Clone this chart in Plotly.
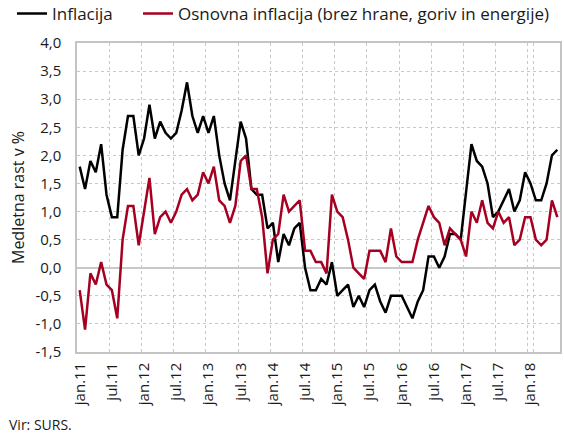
import plotly.graph_objects as go

# Monthly categories Jan 2011 - Jun 2018
month_abbr = ["jan", "feb", "mar", "apr", "maj", "jun", "jul", "avg", "sep", "okt", "nov", "dec"]
months = [f"{month_abbr[m]}.{y % 100:02d}" for y in range(2011, 2019) for m in range(12)][:90]

inflacija = [
    1.8, 1.4, 1.9, 1.7, 2.2, 1.3, 0.9, 0.9, 2.1, 2.7, 2.7, 2.0,
    2.3, 2.9, 2.3, 2.6, 2.4, 2.3, 2.4, 2.8, 3.3, 2.7, 2.4, 2.7,
    2.4, 2.7, 2.0, 1.5, 1.2, 1.9, 2.6, 2.3, 1.4, 1.3, 1.3, 0.7,
    0.8, 0.1, 0.6, 0.4, 0.7, 0.8, 0.0, -0.4, -0.4, -0.2, -0.3, 0.1,
    -0.5, -0.4, -0.3, -0.7, -0.5, -0.7, -0.4, -0.3, -0.6, -0.8, -0.5, -0.5,
    -0.5, -0.7, -0.9, -0.6, -0.4, 0.2, 0.2, 0.0, 0.2, 0.6, 0.6, 0.5,
    1.4, 2.2, 1.9, 1.8, 1.5, 0.9, 1.0, 1.2, 1.4, 1.0, 1.2, 1.7,
    1.5, 1.2, 1.2, 1.5, 2.0, 2.1,
]

osnovna = [
    -0.4, -1.1, -0.1, -0.3, 0.1, -0.3, -0.4, -0.9, 0.5, 1.1, 1.1, 0.4,
    1.0, 1.6, 0.6, 0.9, 1.0, 0.8, 1.0, 1.3, 1.4, 1.2, 1.3, 1.7,
    1.5, 1.8, 1.2, 1.1, 0.8, 1.1, 1.9, 2.0, 1.4, 1.4, 0.9, -0.1,
    0.5, 0.6, 1.3, 1.0, 1.1, 1.2, 0.3, 0.3, 0.1, 0.1, -0.1, 1.3,
    1.0, 0.9, 0.5, 0.0, -0.1, -0.2, 0.3, 0.3, 0.3, 0.1, 0.7, 0.2,
    0.1, 0.1, 0.1, 0.5, 0.8, 1.1, 0.9, 0.8, 0.4, 0.7, 0.6, 0.5,
    0.2, 1.0, 0.8, 1.2, 0.8, 0.7, 1.0, 0.8, 0.9, 0.4, 0.5, 0.9,
    0.9, 0.5, 0.4, 0.5, 1.2, 0.9,
]

x_ticks = months[::6]
y_vals = [4.0, 3.5, 3.0, 2.5, 2.0, 1.5, 1.0, 0.5, 0.0, -0.5, -1.0, -1.5]
y_text = ["4,0", "3,5", "3,0", "2,5", "2,0", "1,5", "1,0", "0,5", "0,0", "-0,5", "-1,0", "-1,5"]

FONT = "Open Sans"
TXT = "#1a1a1a"

fig = go.Figure()
fig.add_trace(go.Scatter(x=months, y=inflacija, mode="lines", name="Inflacija",
                         line=dict(color="#000000", width=2.5), cliponaxis=False,
                         legend="legend"))
fig.add_trace(go.Scatter(x=months, y=osnovna, mode="lines",
                         name="Osnovna inflacija (brez hrane, goriv in energije)",
                         line=dict(color="#a50021", width=2.5), cliponaxis=False,
                         legend="legend2"))

legend_common = dict(orientation="h", xanchor="left", y=1.094, yanchor="middle",
                     font=dict(size=17, color=TXT), bgcolor="rgba(0,0,0,0)", itemwidth=30)

fig.update_layout(
    width=564, height=436,
    margin=dict(l=77, r=4, t=43, b=84, autoexpand=False),
    paper_bgcolor="white", plot_bgcolor="white",
    font=dict(family=FONT, size=15, color=TXT),
    showlegend=True,
    legend=dict(x=-0.1346, **legend_common),
    legend2=dict(x=0.1263, **legend_common),
    annotations=[dict(text="Vir: SURS.", x=-0.145, xref="paper", xanchor="left",
                      y=-0.236, yref="paper", yanchor="middle", showarrow=False,
                      font=dict(size=14, family=FONT, color=TXT))],
)

fig.update_xaxes(
    type="category", categoryorder="array", categoryarray=months,
    range=[-0.5, len(months) - 0.5], autorange=False, automargin=False,
    tickmode="array", tickvals=x_ticks, ticktext=x_ticks, tickangle=-90,
    tickson="boundaries", ticks="", showgrid=True, gridcolor="#c8c8c8", griddash="dot", gridwidth=1,
    showline=True, linecolor="#c4c4c4", linewidth=1.5, mirror=True,
    tickfont=dict(size=15), ticklabelstandoff=3, fixedrange=True,
)
fig.update_yaxes(
    range=[-1.5, 4.0], autorange=False, automargin=False,
    tickmode="array", tickvals=y_vals, ticktext=y_text,
    showgrid=True, gridcolor="#c8c8c8", griddash="dot", gridwidth=1,
    zeroline=True, zerolinecolor="#c8c8c8", zerolinewidth=1.5,
    showline=True, linecolor="#c4c4c4", linewidth=1.5, mirror=True,
    ticks="", tickfont=dict(size=15), ticklabelstandoff=11, fixedrange=True,
    title=dict(text="Medletna rast v %", font=dict(size=16), standoff=7),
)

fig.write_html("out.html", config={"displayModeBar": False},
               post_script="document.body.style.margin='0';document.body.style.padding='0';")
